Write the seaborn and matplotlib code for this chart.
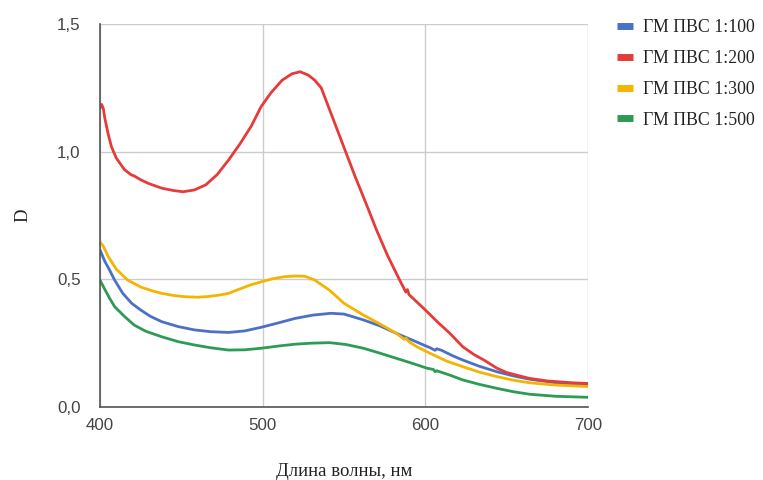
import numpy as np
import pandas as pd
import matplotlib
matplotlib.use("Agg")
import matplotlib.pyplot as plt
from matplotlib.ticker import FuncFormatter
from matplotlib.lines import Line2D
import seaborn as sns

series_names = ["ГМ ПВС 1:100", "ГМ ПВС 1:200", "ГМ ПВС 1:300", "ГМ ПВС 1:500"]
colors = ["#4a70c8", "#e53b39", "#f4b400", "#2e9b54"]

wl_100 = [400, 403, 406, 409, 414, 419.5, 425, 431, 438, 448, 458, 468, 479, 489, 499, 510, 520, 531, 542,
          550, 562, 572, 582, 592, 600, 603, 606, 607, 610, 617, 623, 633, 644, 654, 664, 680, 700]
d_100 = [0.615, 0.57, 0.535, 0.497, 0.445, 0.406, 0.38, 0.355, 0.334, 0.315, 0.302, 0.295, 0.292, 0.298,
         0.312, 0.33, 0.347, 0.36, 0.367, 0.364, 0.341, 0.318, 0.289, 0.262, 0.24, 0.232, 0.222, 0.228,
         0.222, 0.2, 0.184, 0.16, 0.138, 0.122, 0.109, 0.095, 0.086]

wl_200 = [400, 401, 402, 403, 405, 407, 410, 415, 419, 421, 425, 430, 438, 445, 451, 458, 465, 472, 479,
          486, 493, 499, 505, 512, 518, 523, 528, 532, 536, 539, 545, 551, 557, 564, 570, 577, 584, 588,
          589, 590, 595, 600, 608, 615, 623, 630, 636, 644, 650, 656, 664, 675, 690, 700]
d_200 = [1.17, 1.185, 1.17, 1.13, 1.07, 1.02, 0.975, 0.93, 0.91, 0.905, 0.89, 0.875, 0.857, 0.848, 0.843,
         0.85, 0.87, 0.91, 0.967, 1.03, 1.10, 1.176, 1.23, 1.28, 1.305, 1.313, 1.30, 1.28, 1.25, 1.20,
         1.10, 1.00, 0.90, 0.79, 0.693, 0.59, 0.50, 0.45, 0.46, 0.44, 0.41, 0.38, 0.33, 0.289, 0.236,
         0.205, 0.184, 0.152, 0.135, 0.125, 0.112, 0.102, 0.095, 0.092]

wl_300 = [400, 402, 405, 410, 417, 425, 432, 438, 445, 452, 460, 467, 473, 479, 485, 492, 499, 506, 513,
          520, 526, 532, 541, 550, 562, 575, 582, 585, 587, 588, 590, 595, 603, 613, 623, 633, 644, 654,
          664, 680, 700]
d_300 = [0.647, 0.63, 0.59, 0.54, 0.497, 0.47, 0.455, 0.445, 0.437, 0.432, 0.43, 0.433, 0.438, 0.445,
         0.46, 0.477, 0.49, 0.502, 0.51, 0.513, 0.512, 0.497, 0.458, 0.406, 0.36, 0.315, 0.289, 0.275,
         0.265, 0.27, 0.255, 0.235, 0.21, 0.18, 0.158, 0.137, 0.119, 0.105, 0.095, 0.086, 0.08]

wl_500 = [400, 403, 406, 409, 415, 421, 428, 438, 448, 458, 468, 479, 489, 499, 510, 520, 530, 541, 551,
          562, 572, 582, 592, 601, 605, 606, 607, 615, 623, 633, 644, 654, 664, 680, 700]
d_500 = [0.497, 0.46, 0.425, 0.393, 0.355, 0.321, 0.297, 0.275, 0.256, 0.243, 0.232, 0.223, 0.224, 0.23,
         0.239, 0.246, 0.25, 0.252, 0.245, 0.23, 0.211, 0.191, 0.171, 0.152, 0.147, 0.138, 0.142, 0.125,
         0.106, 0.089, 0.073, 0.06, 0.05, 0.042, 0.038]

x_ticks = [400, 500, 600, 700]
y_ticks = [0.0, 0.5, 1.0, 1.5]

frames = []
for name, wl, d in zip(series_names, [wl_100, wl_200, wl_300, wl_500], [d_100, d_200, d_300, d_500]):
    frames.append(pd.DataFrame({"wl": wl, "D": d, "series": name}))
df = pd.concat(frames, ignore_index=True)

sns.set_style("white")
fig = plt.figure(figsize=(7.63, 4.8), dpi=100)
ax = fig.add_axes([100 / 763, 1 - 407 / 480, 488 / 763, 383 / 480])

sns.lineplot(data=df, x="wl", y="D", hue="series", hue_order=series_names,
             palette=colors, estimator=None, linewidth=2.0, ax=ax, legend=False)

ax.set_xlim(400, 700)
ax.set_ylim(0, 1.5)
ax.set_xticks(x_ticks)
ax.set_yticks(y_ticks)
ax.yaxis.set_major_formatter(FuncFormatter(lambda v, p: f"{v:.1f}".replace(".", ",")))
ax.grid(True, color="#cccccc", linewidth=1.0)
ax.set_axisbelow(True)
for s in ["top", "right"]:
    ax.spines[s].set_visible(False)
for s in ["left", "bottom"]:
    ax.spines[s].set_color("#555555")
    ax.spines[s].set_linewidth(1.2)
ax.tick_params(axis="both", length=0, labelsize=12.2, labelcolor="#444444")
ax.tick_params(axis="x", pad=8)
ax.tick_params(axis="y", pad=14)
for lab in ax.get_xticklabels() + ax.get_yticklabels():
    lab.set_family("Liberation Sans")

ax.set_xlabel("Длина волны, нм", family="Liberation Serif", fontsize=13.5, color="#222222")
ax.set_ylabel("D", family="Liberation Serif", fontsize=13.5, color="#222222")
ax.xaxis.set_label_coords(0.5, -0.145)
ax.yaxis.set_label_coords(-0.14, 0.5)

handles = [Line2D([0], [0], color=c, linewidth=5, solid_capstyle="butt") for c in colors]
leg = fig.legend(handles, series_names, loc="upper left", bbox_to_anchor=(601 / 763, 1 - 3 / 480),
                 frameon=False, handlelength=0.9, handletextpad=0.55, labelspacing=0.78,
                 prop={"family": "Liberation Serif", "size": 12.8})
for t in leg.get_texts():
    t.set_color("#222222")

fig.savefig("out.png", dpi=100)
